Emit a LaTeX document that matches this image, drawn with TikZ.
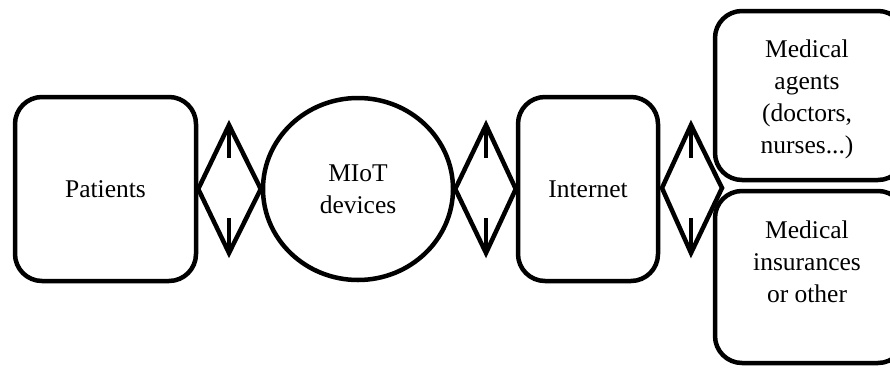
\documentclass[tikz,border=0pt]{standalone}
\usepackage{fontspec}
\usetikzlibrary{shapes.geometric}
\setmainfont{Liberation Serif}
\begin{document}
\begin{tikzpicture}[x=1pt,y=-1pt,
  every node/.style={font=\fontsize{25.5}{32}\selectfont, align=center, inner sep=0pt},
  box/.style={draw, line width=4.5pt, rounded corners=27pt},
  conn/.style={line width=4.5pt, line join=miter},
  stem/.style={line width=4.5pt, line cap=butt}]
\useasboundingbox (0,0) rectangle (890,367);
\clip (0,0) rectangle (890,367);
% boxes
\node[box, minimum width=181pt, minimum height=184pt] (pat) at (105.5,189) {Patients};
\node[draw, line width=4.5pt, ellipse, minimum width=190pt, minimum height=182pt] (miot) at (358,189) {MIoT\\devices};
\node[box, minimum width=140pt, minimum height=184pt] (inet) at (588,189) {Internet};
\node[box, minimum width=190pt, minimum height=169pt] (ag) at (810,95.5) {};
\node[box, minimum width=190pt, minimum height=172pt] (ins) at (810,277) {};
\node[anchor=north] (agt) at (807,39.6) {Medical\\agents\\(doctors,\\nurses...)};
\node[anchor=north] (inst) at (807,220.6) {Medical\\insurances\\or other};
% connector coordinates
\coordinate (d1t) at (229,125);
\coordinate (d1b) at (229,253);
\coordinate (d2t) at (486,125);
\coordinate (d2b) at (486,253);
\coordinate (d3l) at (662,188);
\coordinate (d3t) at (691,125);
\coordinate (d3r) at (722,188);
\coordinate (d3b) at (691,253);
% connectors
\draw[conn] (pat.east) -- (d1t) -- (miot.west) -- (d1b) -- cycle;
\draw[stem] (d1t) -- ++(0,33);
\draw[stem] (d1b) -- ++(0,-35);
\draw[conn] (miot.east) -- (d2t) -- (inet.west) -- (d2b) -- cycle;
\draw[stem] (d2t) -- ++(0,33);
\draw[stem] (d2b) -- ++(0,-35);
\draw[conn] (d3l) -- (d3t) -- (d3r) -- (d3b) -- cycle;
\draw[stem] (d3t) -- ++(0,33);
\draw[stem] (d3b) -- ++(0,-35);
\end{tikzpicture}
\end{document}
